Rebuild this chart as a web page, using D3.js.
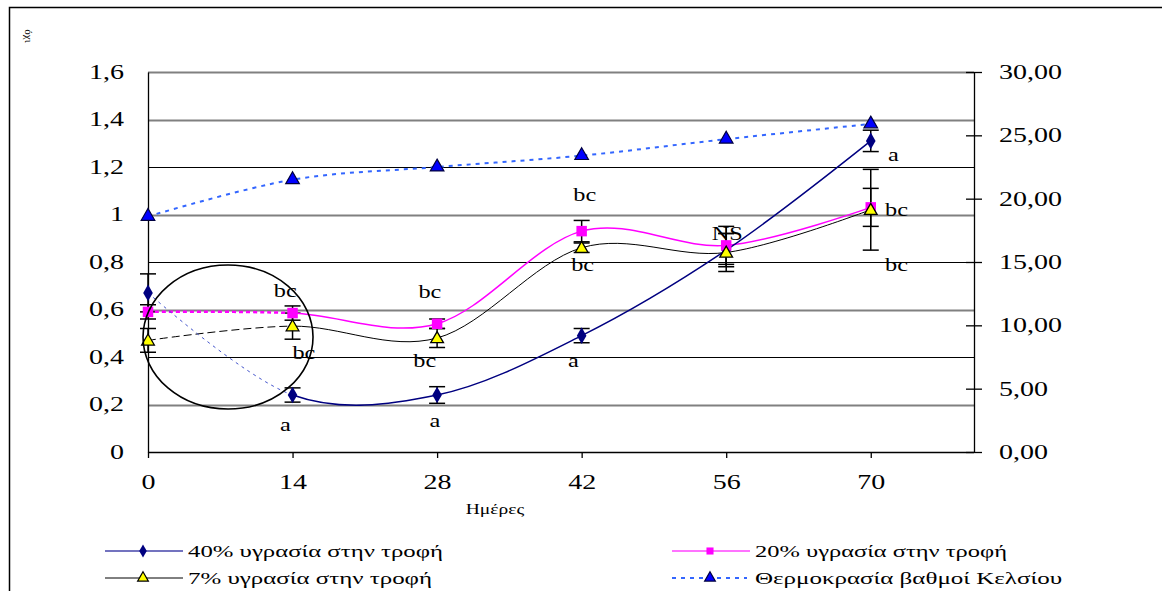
<!DOCTYPE html>
<html><head><meta charset="utf-8">
<script src="https://cdn.jsdelivr.net/npm/d3@7"></script>
<style>body{margin:0;background:#fff}svg{display:block}</style>
</head><body><svg id="c" width="1162" height="591"></svg>
<script>
const days = [0, 14, 28, 42, 56, 70];
const moist40 = [0.67, 0.24, 0.24, 0.49, 0.85, 1.31];
const err40 = [0.08, 0.03, 0.035, 0.03, 0.07, 0.045];
const moist20 = [0.59, 0.585, 0.54, 0.93, 0.87, 1.03];
const err20 = [0.03, 0.03, 0.02, 0.045, 0.08, 0.08];
const moist7 = [0.47, 0.53, 0.48, 0.86, 0.84, 1.02];
const err7 = [0.05, 0.055, 0.04, 0.02, 0.08, 0.17];
const temperature = [18.6, 21.5, 22.5, 23.4, 24.7, 25.9];
const leftTicks = [0, 0.2, 0.4, 0.6, 0.8, 1.0, 1.2, 1.4, 1.6];
const leftTickLabels = ["0", "0,2", "0,4", "0,6", "0,8", "1", "1,2", "1,4", "1,6"];
const rightTicks = [0, 5, 10, 15, 20, 25, 30];
const rightTickLabels = ["0,00", "5,00", "10,00", "15,00", "20,00", "25,00", "30,00"];
const xTickLabels = ["0", "14", "28", "42", "56", "70"];
const annoText = ["bc", "bc", "a", "bc", "bc", "a", "bc", "bc", "a", "NS", "a", "bc", "bc"];
const annoDay = [13.3, 15.1, 13.3, 27.3, 26.8, 27.8, 42.3, 42.1, 41.2, 56.1, 72.2, 72.5, 72.5];
const annoVal = [0.678, 0.417, 0.114, 0.674, 0.383, 0.131, 1.082, 0.787, 0.383, 0.918, 1.25, 1.019, 0.787];
const legendLabels = ["40% υγρασία στην τροφή", "20% υγρασία στην τροφή", "7% υγρασία στην τροφή", "Θερμοκρασία βαθμοί Κελσίου"];
const xAxisTitle = "Ημέρες";
const cornerLabel = "όχι";

const FONT = "'Liberation Serif', 'Times New Roman', serif";
const svg = d3.select("#c").style("font-family", FONT);
const L = 148, R = 974, T = 72, B = 452;
const x = d3.scaleLinear().domain([0, 80]).range([L, R]);
const y = d3.scaleLinear().domain([0, 1.6]).range([B, T]);
const y2 = d3.scaleLinear().domain([0, 30]).range([B, T]);

function stretch(sel, k) {
  sel.each(function () {
    const w = this.getComputedTextLength();
    this.setAttribute("textLength", w * k);
    this.setAttribute("lengthAdjust", "spacingAndGlyphs");
  });
}

// frame
svg.append("path").attr("d", "M9.5,591 L9.5,7.5 L1162,7.5").attr("fill", "none").attr("stroke", "#000").attr("stroke-width", 1.5);
svg.append("text").text(cornerLabel).attr("transform", "translate(25,36) rotate(90)").attr("font-size", 11).attr("text-anchor", "middle").style("font-family", FONT);

// gridlines
const gridCol = ["#000", "#808080", "#000", "#808080", "#000", "#808080", "#000", "#808080", "#808080"];
svg.append("g").selectAll("line").data(leftTicks.slice(1)).join("line")
  .attr("x1", L).attr("x2", R).attr("y1", d => Math.round(y(d)) + 0.5).attr("y2", d => Math.round(y(d)) + 0.5)
  .attr("stroke", (d, i) => gridCol[i + 1]).attr("stroke-width", (d, i) => gridCol[i + 1] === "#000" ? 1 : 1.8);

// axes
const gL = svg.append("g").attr("transform", `translate(${L},0)`)
  .call(d3.axisLeft(y).tickValues(leftTicks).tickFormat(d => leftTickLabels[leftTicks.indexOf(d)]).tickSizeInner(8).tickSizeOuter(0).tickPadding(16));
const gR = svg.append("g").attr("transform", `translate(${R},0)`)
  .call(d3.axisRight(y2).tickValues(rightTicks).tickFormat(d => rightTickLabels[rightTicks.indexOf(d)]).tickSizeInner(8).tickSizeOuter(0).tickPadding(17));
const gB = svg.append("g").attr("transform", `translate(0,${B})`)
  .call(d3.axisBottom(x).tickValues(days).tickFormat(d => xTickLabels[days.indexOf(d)]).tickSizeInner(6).tickSizeOuter(0).tickPadding(17));
[gL, gR, gB].forEach(g => {
  g.attr("font-family", null);
  g.selectAll("text").style("font-family", FONT).attr("font-size", 20).attr("fill", "#000");
  g.selectAll("line,path").attr("stroke", "#000").attr("stroke-width", 1.3);
  stretch(g.selectAll("text"), 1.4);
});
gR.selectAll(".tick line").attr("x1", -8);
gL.selectAll(".tick line").attr("x2", 0);
gB.select(".domain").attr("d", `M${L},0.5H${R}`);

const xt = svg.append("text").text(xAxisTitle).attr("x", 495).attr("y", 514).attr("text-anchor", "middle").attr("font-size", 15).style("font-family", FONT);
stretch(xt, 1.3);

// clip paths
const defs = svg.append("defs");
defs.append("clipPath").attr("id", "clipA").append("rect").attr("x", 0).attr("y", 0).attr("width", x(14)).attr("height", 591);
defs.append("clipPath").attr("id", "clipB").append("rect").attr("x", x(14)).attr("y", 0).attr("width", 1162).attr("height", 591);

const curve = d3.curveCardinal.tension(0);
const lineL = d3.line().x((d, i) => x(days[i])).y(d => y(d)).curve(curve);
const lineR = d3.line().x((d, i) => x(days[i])).y(d => y2(d)).curve(curve);

// error bars
function errBars(vals, errs) {
  const g = svg.append("g").attr("stroke", "#000").attr("stroke-width", 1.5);
  vals.forEach((v, i) => {
    const cx = x(days[i]), t = y(v + errs[i]), b = y(v - errs[i]);
    g.append("line").attr("x1", cx).attr("x2", cx).attr("y1", t).attr("y2", b);
    g.append("line").attr("x1", cx - 8).attr("x2", cx + 8).attr("y1", t).attr("y2", t);
    g.append("line").attr("x1", cx - 8).attr("x2", cx + 8).attr("y1", b).attr("y2", b);
  });
}
errBars(moist7, err7);
errBars(moist20, err20);
errBars(moist40, err40);

// temperature
svg.append("path").attr("d", lineR(temperature)).attr("fill", "none").attr("stroke", "#3366ff").attr("stroke-width", 2).attr("stroke-dasharray", "4,5");

// 7%
svg.append("path").attr("d", lineL(moist7)).attr("clip-path", "url(#clipA)").attr("fill", "none").attr("stroke", "#000").attr("stroke-width", 1).attr("stroke-dasharray", "8,4");
svg.append("path").attr("d", lineL(moist7)).attr("clip-path", "url(#clipB)").attr("fill", "none").attr("stroke", "#000").attr("stroke-width", 1);
// 20%
svg.append("path").attr("d", lineL(moist20)).attr("clip-path", "url(#clipA)").attr("fill", "none").attr("stroke", "#ff00ff").attr("stroke-width", 2.5).attr("stroke-dasharray", "4,3");
svg.append("path").attr("d", lineL(moist20)).attr("clip-path", "url(#clipB)").attr("fill", "none").attr("stroke", "#ff00ff").attr("stroke-width", 1.5);
// 40%
svg.append("path").attr("d", lineL(moist40)).attr("clip-path", "url(#clipA)").attr("fill", "none").attr("stroke", "#4455cc").attr("stroke-width", 1).attr("stroke-dasharray", "3,4");
svg.append("path").attr("d", lineL(moist40)).attr("clip-path", "url(#clipB)").attr("fill", "none").attr("stroke", "#000080").attr("stroke-width", 1.5);

// markers
const tri = d3.symbol().type(d3.symbolTriangle).size(70);
const triT = d3.symbol().type(d3.symbolTriangle).size(80);
const sq = d3.symbol().type(d3.symbolSquare).size(110);
const dia = d3.symbol().type(d3.symbolDiamond).size(80);
svg.append("g").selectAll("path").data(temperature).join("path")
  .attr("d", triT).attr("transform", (d, i) => `translate(${x(days[i])},${y2(d)})`).attr("fill", "#0000ff").attr("stroke", "#000040").attr("stroke-width", 1.2);
svg.append("g").selectAll("path").data(moist40).join("path")
  .attr("d", dia).attr("transform", (d, i) => `translate(${x(days[i])},${y(d)})`).attr("fill", "#000080");
svg.append("g").selectAll("path").data(moist20).join("path")
  .attr("d", sq).attr("transform", (d, i) => `translate(${x(days[i])},${y(d)})`).attr("fill", "#ff00ff");
svg.append("g").selectAll("path").data(moist7).join("path")
  .attr("d", tri).attr("transform", (d, i) => `translate(${x(days[i])},${y(d) + 1})`).attr("fill", "#ffff00").attr("stroke", "#000").attr("stroke-width", 1.3);

// circle highlight
svg.append("ellipse").attr("cx", x(7.75)).attr("cy", y(0.484)).attr("rx", 85).attr("ry", 72)
  .attr("fill", "none").attr("stroke", "#000").attr("stroke-width", 1.6);

// annotations
const an = svg.append("g").selectAll("text").data(annoText).join("text")
  .text(d => d).attr("x", (d, i) => x(annoDay[i])).attr("y", (d, i) => y(annoVal[i]))
  .attr("text-anchor", "middle").attr("dominant-baseline", "central").attr("font-size", 18).style("font-family", FONT);
stretch(an, 1.35);

// legend
const lg = svg.append("g").attr("font-size", 16);
function legItem(x0, yy, len, stroke, sw, dash, sym, fill, sstroke, label, tlen) {
  lg.append("line").attr("x1", x0).attr("x2", x0 + len).attr("y1", yy).attr("y2", yy).attr("stroke", stroke).attr("stroke-width", sw).attr("stroke-dasharray", dash);
  lg.append("path").attr("d", sym).attr("transform", `translate(${x0 + 38},${yy})`).attr("fill", fill).attr("stroke", sstroke).attr("stroke-width", 1.2);
  lg.append("text").text(label).attr("x", x0 + 83).attr("y", yy + 6).style("font-family", FONT)
    .attr("textLength", tlen).attr("lengthAdjust", "spacingAndGlyphs");
}
legItem(105, 551, 78, "#4444aa", 1.5, null, d3.symbol().type(d3.symbolDiamond).size(50)(), "#000080", "none", legendLabels[0], 255);
legItem(672, 551, 78, "#ff44ff", 1.5, null, d3.symbol().type(d3.symbolSquare).size(50)(), "#ff00ff", "none", legendLabels[1], 252);
legItem(105, 578, 78, "#000", 1, null, d3.symbol().type(d3.symbolTriangle).size(50)(), "#ffff00", "#000", legendLabels[2], 244);
legItem(672, 578, 75, "#3366ff", 2, "4,5", d3.symbol().type(d3.symbolTriangle).size(50)(), "#0000ff", "#000040", legendLabels[3], 307);
</script></body></html>
